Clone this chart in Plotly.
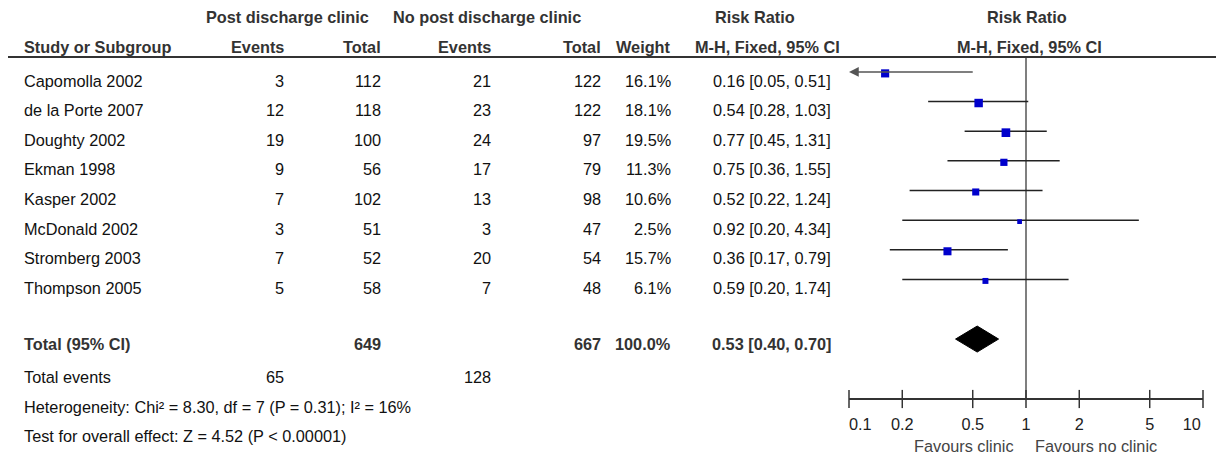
import numpy as np
import plotly.graph_objects as go

# ---------------- data ----------------
studies = ["Capomolla 2002", "de la Porte 2007", "Doughty 2002", "Ekman 1998",
           "Kasper 2002", "McDonald 2002", "Stromberg 2003", "Thompson 2005"]
events_clinic = [3, 12, 19, 9, 7, 3, 7, 5]
total_clinic = [112, 118, 100, 56, 102, 51, 52, 58]
events_noclinic = [21, 23, 24, 17, 13, 3, 20, 7]
total_noclinic = [122, 122, 97, 79, 98, 47, 54, 48]
weights = [16.1, 18.1, 19.5, 11.3, 10.6, 2.5, 15.7, 6.1]
rr = [0.16, 0.54, 0.77, 0.75, 0.52, 0.92, 0.36, 0.59]
ci_low = [0.05, 0.28, 0.45, 0.36, 0.22, 0.20, 0.17, 0.20]
ci_high = [0.51, 1.03, 1.31, 1.55, 1.24, 4.34, 0.79, 1.74]

pooled_rr, pooled_low, pooled_high = 0.53, 0.40, 0.70
sum_total_clinic, sum_total_noclinic = 649, 667
sum_events_clinic, sum_events_noclinic = 65, 128
sum_weight = 100.0
heterogeneity_text = "Heterogeneity: Chi² = 8.30, df = 7 (P = 0.31); I² = 16%"
overall_text = "Test for overall effect: Z = 4.52 (P < 0.00001)"

tick_vals = [0.1, 0.2, 0.5, 1, 2, 5, 10]
tick_labels = ["0.1", "0.2", "0.5", "1", "2", "5", "10"]
axis_min, axis_max = 0.1, 10

# ---------------- geometry (screen pixels; page body has an 8px margin) ----------------
OFF = 8
W, H = 1224 - OFF, 454 - OFF
ROW0, ROWH = 80.5, 29.65          # screen y of first text row, row pitch


def X(px):
    return (px - OFF) / W


def row_of(py):
    return (py - ROW0) / ROWH


FONT = "Liberation Sans, Arial, sans-serif"
FS = 16.3
FOREST_SHIFT = -0.29
HEADER_LINE_ROW = row_of(57)
AXIS_Y = 399
AXIS_ROW = row_of(AXIS_Y)
TOTAL_ROW = 8.9

fig = go.Figure()
ann = []


def txt(xpx, row, s, anchor="right", bold=False, color="#111111", size=FS):
    ann.append(dict(x=X(xpx), xref="paper", y=row, yref="y", text=f"<b>{s}</b>" if bold else s,
                    showarrow=False, xanchor=anchor, yanchor="middle",
                    font=dict(family=FONT, size=size, color=color)))


HC = "#333333"
# headers
txt(287, -2.14, "Post discharge clinic", "center", True, HC)
txt(486.5, -2.14, "No post discharge clinic", "center", True, HC)
txt(754.7, -2.14, "Risk Ratio", "center", True, HC)
txt(1027, -2.14, "Risk Ratio", "center", True, HC)
txt(22, -1.14, "Study or Subgroup", "left", True, HC)
txt(286, -1.14, "Events", "right", True, HC)
txt(383, -1.14, "Total", "right", True, HC)
txt(493, -1.14, "Events", "right", True, HC)
txt(603, -1.14, "Total", "right", True, HC)
txt(673, -1.14, "Weight", "right", True, HC)
txt(767, -1.14, "M-H, Fixed, 95% CI", "center", True, HC)
txt(1029.5, -1.14, "M-H, Fixed, 95% CI", "center", True, HC)

# study rows
for i, name in enumerate(studies):
    txt(22, i, name, "left")
    txt(286, i, str(events_clinic[i]))
    txt(383, i, str(total_clinic[i]))
    txt(493, i, str(events_noclinic[i]))
    txt(603, i, str(total_noclinic[i]))
    txt(673, i, f"{weights[i]:.1f}%")
    txt(833, i, f"{rr[i]:.2f} [{ci_low[i]:.2f}, {ci_high[i]:.2f}]")

# totals
txt(22, TOTAL_ROW, "Total (95% CI)", "left", True, HC)
txt(383, TOTAL_ROW, str(sum_total_clinic), "right", True, HC)
txt(603, TOTAL_ROW, str(sum_total_noclinic), "right", True, HC)
txt(673, TOTAL_ROW, f"{sum_weight:.1f}%", "right", True, HC)
txt(833, TOTAL_ROW, f"{pooled_rr:.2f} [{pooled_low:.2f}, {pooled_high:.2f}]", "right", True, HC)
txt(22, 10, "Total events", "left")
txt(286, 10, str(sum_events_clinic))
txt(493, 10, str(sum_events_noclinic))
txt(22, 11, heterogeneity_text, "left")
txt(22, 12, overall_text, "left")

# favours labels
txt(1016, row_of(446), "Favours clinic", "right", False, "#444444")
txt(1033, row_of(446), "Favours no clinic", "left", False, "#444444")

# header rule
fig.add_shape(type="line", xref="paper", yref="y", x0=X(8), x1=X(1218),
              y0=HEADER_LINE_ROW, y1=HEADER_LINE_ROW, line=dict(color="#333333", width=2))

# null line at RR = 1
fig.add_trace(go.Scatter(x=[1, 1], y=[HEADER_LINE_ROW, AXIS_ROW], mode="lines",
                         line=dict(color="#555555", width=1.5), hoverinfo="skip", cliponaxis=False))

# CI lines
seg_x, seg_y = [], []
for i in range(len(studies)):
    y = i + FOREST_SHIFT
    if ci_low[i] < axis_min:
        ann.append(dict(x=np.log10(axis_min), y=y, xref="x", yref="y",
                        ax=np.log10(ci_high[i]), ay=y, axref="x", ayref="y",
                        text="", showarrow=True, arrowhead=2, arrowsize=1.3,
                        arrowwidth=1.5, arrowcolor="#555555", standoff=0))
    else:
        seg_x += [ci_low[i], min(ci_high[i], axis_max), None]
        seg_y += [y, y, None]
fig.add_trace(go.Scatter(x=seg_x, y=seg_y, mode="lines", line=dict(color="#222222", width=1.5),
                         hoverinfo="skip", cliponaxis=False))

# weight squares
sizes = [2.5 + 1.4 * np.sqrt(w) for w in weights]
fig.add_trace(go.Scatter(x=rr, y=[i + FOREST_SHIFT + 0.05 for i in range(len(rr))], mode="markers",
                         marker=dict(symbol="square", size=sizes, color="#0000CC", opacity=1,
                                     line=dict(width=0)),
                         cliponaxis=False, hoverinfo="skip"))

# pooled diamond
dy = 13 / ROWH
yd = TOTAL_ROW - 0.18
fig.add_trace(go.Scatter(x=[pooled_low, pooled_rr, pooled_high, pooled_rr, pooled_low],
                         y=[yd, yd - dy, yd, yd + dy, yd], mode="lines", fill="toself",
                         fillcolor="#000000", line=dict(color="#000000", width=1), cliponaxis=False,
                         hoverinfo="skip"))

# tick marks crossing axis line
fig.add_trace(go.Scatter(x=tick_vals, y=[AXIS_ROW] * len(tick_vals), mode="markers",
                         marker=dict(symbol="line-ns", size=13, line=dict(color="#333333", width=1.5)),
                         cliponaxis=False, hoverinfo="skip"))

nb = "\u00a0"
tick_text = list(tick_labels)
tick_text[0] = nb * 5 + tick_text[0]
tick_text[-1] = tick_text[-1] + nb * 5

fig.update_layout(
    width=W, height=H, margin=dict(l=0, r=0, t=0, b=0, autoexpand=False),
    paper_bgcolor="white", plot_bgcolor="white", showlegend=False,
    font=dict(family=FONT, size=FS, color="#111111"),
    annotations=ann,
    xaxis=dict(type="log", range=[np.log10(axis_min), np.log10(axis_max)],
               domain=[X(849), X(1203)], anchor="free", position=1 - (AXIS_Y - OFF) / H,
               showline=True, linecolor="#333333", linewidth=1.5, ticks="",
               tickvals=tick_vals, ticktext=tick_text, showgrid=False, zeroline=False,
               tickfont=dict(family=FONT, size=FS, color="#222222"), ticklabelstandoff=11,
               automargin=False, fixedrange=True),
    yaxis=dict(range=[row_of(454), row_of(OFF)], domain=[0, 1], visible=False,
               automargin=False, fixedrange=True),
)

fig.write_html("out.html", config={"displayModeBar": False})
